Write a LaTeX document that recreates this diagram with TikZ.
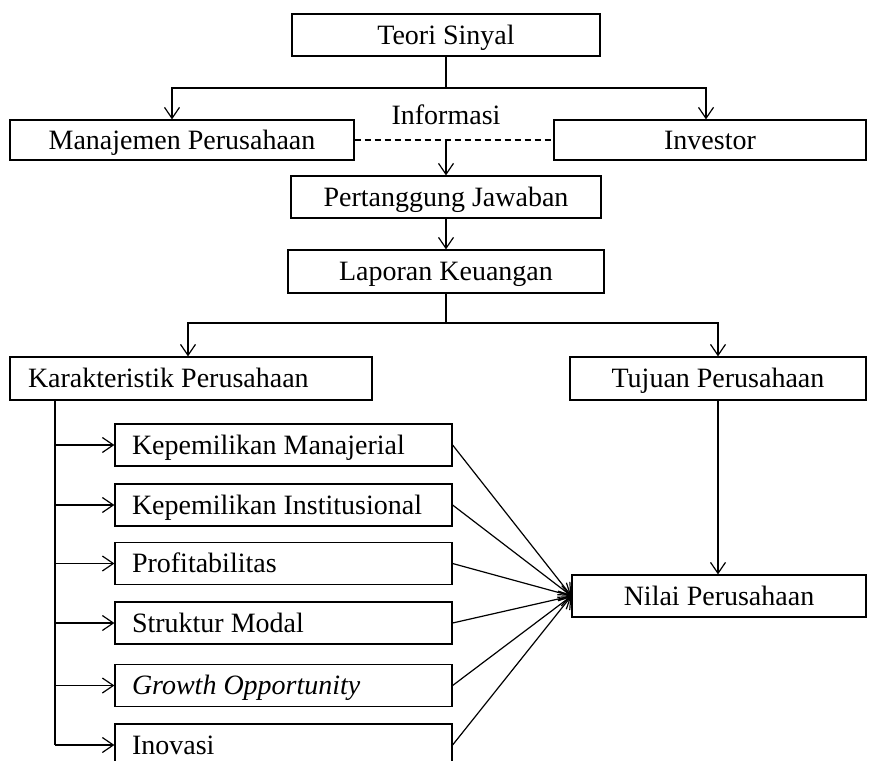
\documentclass[tikz,border=0pt]{standalone}
\usepackage{fontspec}
\setmainfont{Liberation Serif}
\usetikzlibrary{arrows.meta,calc}
\newcommand{\lefttxt}[1]{\makebox[151.5pt][l]{#1}}
\begin{document}
\begin{tikzpicture}[x=0.5pt,y=-0.5pt,
  font=\fontsize{14}{16}\selectfont,
  box/.style={draw, line width=0.6pt, inner sep=0pt, minimum height=21pt, text height=12pt, text depth=3pt},
  lbox/.style={box, inner xsep=8.5pt},
  ln/.style={line width=0.6pt},
  arr/.style={ln, -{Straight Barb[length=5.5pt,width=7.5pt]}}
]
\clip (0,0) rectangle (872,760);
\fill[white] (0,0) rectangle (872,760);

\node[box, minimum width=154pt] (teori) at (446,35) {Teori Sinyal};
\node[box, minimum width=172pt, minimum height=20pt] (manaj) at (182,140) {Manajemen Perusahaan};
\node[box, minimum width=156pt, minimum height=20pt] (inv) at (710,140) {Investor};
\node[text height=12pt, text depth=3pt, inner sep=0pt] (info) at (446,115) {Informasi};
\node[box, minimum width=155pt] (pert) at (446,197) {Pertanggung Jawaban};
\node[box, minimum width=158pt, minimum height=21.5pt] (lap) at (446,271.5) {Laporan Keuangan};
\node[box, minimum height=21.5pt, inner xsep=9pt] (kar) at (191,378.5) {\makebox[163pt][l]{Karakteristik Perusahaan}};
\node[box, minimum width=148pt, minimum height=21.5pt] (tuj) at (718,378.5) {Tujuan Perusahaan};

\node[lbox] (km) at (283.5,445) {\lefttxt{Kepemilikan Manajerial}};
\node[lbox] (ki) at (283.5,505) {\lefttxt{Kepemilikan Institusional}};
\node[lbox] (pr) at (283.5,563.5) {\lefttxt{Profitabilitas}};
\node[lbox] (sm) at (283.5,623) {\lefttxt{Struktur Modal}};
\node[lbox] (go) at (283.5,685.5) {\lefttxt{\itshape Growth Opportunity}};
\node[lbox] (ino) at (283.5,745) {\lefttxt{Inovasi}};

\node[box, minimum width=147pt] (nilai) at (719,596) {Nilai Perusahaan};

% top branch
\coordinate (tb) at (446,88);
\draw[ln] (teori.south) -- (tb);
\draw[arr] (tb) -| ([xshift=-5pt]manaj.north);
\draw[arr] (tb) -| ([xshift=-2pt]inv.north);
\draw[ln, dash pattern=on 3pt off 2pt] (manaj.east) -- (inv.west);
\draw[arr] (pert.north |- manaj.east) -- (pert.north);
\draw[arr] (pert.south) -- (pert.south |- lap.north);

% second branch
\coordinate (lb) at (446,323);
\draw[ln] (lap.south) -- (lb);
\draw[arr] (lb) -| ([xshift=-1.5pt]kar.north);
\draw[arr] (lb) -| (tuj.north);

% karakteristik spine
\coordinate (k0) at (55,400);
\draw[ln] (k0) -- (ino.west -| k0);
\foreach \b in {km,ki,pr,sm,go,ino} {
  \draw[arr] (\b.west -| k0) -- (\b.west);
  \draw[arr] (\b.east) -- (nilai.west);
}
\draw[arr] (tuj.south) -- (nilai.north -| tuj.south);
\end{tikzpicture}
\end{document}
